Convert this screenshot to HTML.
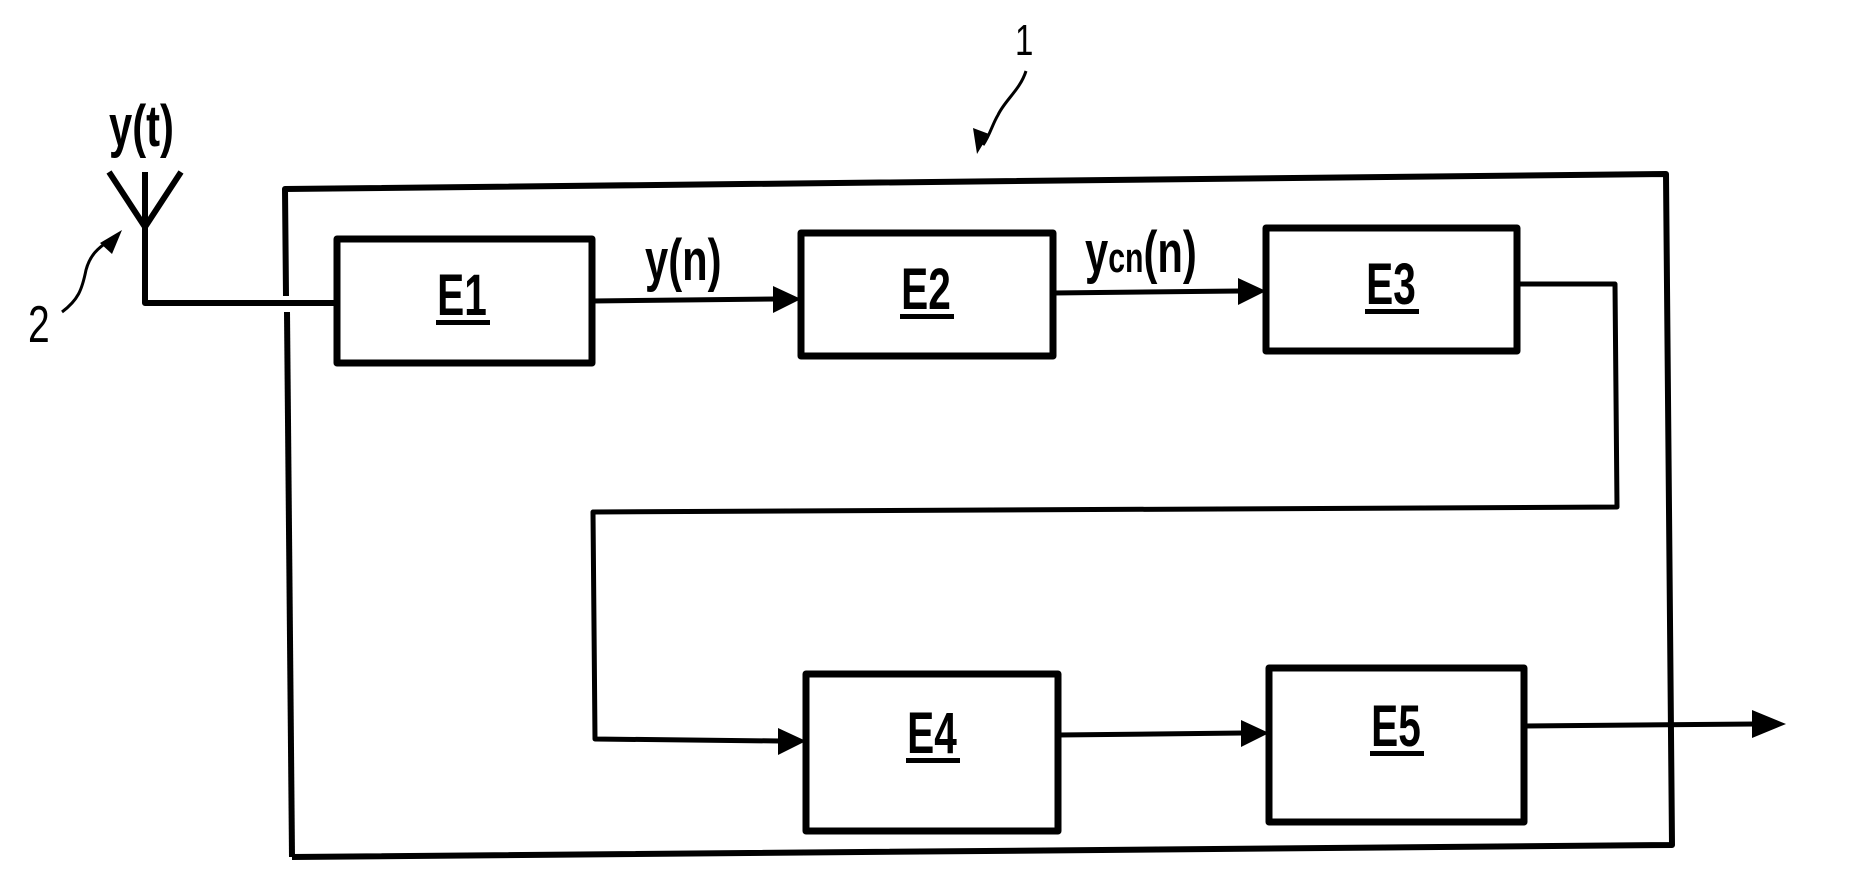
<!DOCTYPE html>
<html><head><style>
html,body{margin:0;padding:0;background:#fff;}
svg{display:block;}
text{font-family:"Liberation Sans",sans-serif;font-weight:bold;fill:#000;}
</style></head><body>
<svg width="1849" height="872" viewBox="0 0 1849 872" xmlns="http://www.w3.org/2000/svg">
<g stroke="#000" fill="none" stroke-linejoin="round">
<path d="M292,857 L1672,845 L1666,174 L285,189 L286,296" stroke-width="6"/>
<path d="M287,312 L292,857" stroke-width="6"/>
<path d="M145,172 L145,303 L335,303" stroke-width="6"/>
<path d="M109,172 L145,227 L181,172" stroke-width="6"/>
<rect x="337" y="239" width="255" height="124" stroke-width="7"/>
<rect x="801" y="233" width="252" height="123" stroke-width="7"/>
<rect x="1266" y="228" width="251" height="123" stroke-width="7"/>
<rect x="806" y="674" width="252" height="157" stroke-width="7"/>
<rect x="1269" y="668" width="255" height="154" stroke-width="7"/>
<path d="M592,301 L775,299" stroke-width="5"/>
<path d="M1053,293 L1240,291" stroke-width="5"/>
<path d="M1517,284 L1615,284 L1617,507 L593,512 L595,739 L780,741" stroke-width="5"/>
<path d="M1058,735 L1243,733" stroke-width="5"/>
<path d="M1524,726 L1755,724" stroke-width="5"/>
<path d="M62,312 C78,300 82,290 86,270 C90,255 98,248 110,240" stroke-width="3"/>
<path d="M1026,71 C1020,90 1005,100 998,115 C992,125 990,135 983,145" stroke-width="3"/>
</g>
<g fill="#000">
<polygon points="801,299 773,286 773,313"/>
<polygon points="1266,291 1238,278 1238,305"/>
<polygon points="806,741 778,728 778,755"/>
<polygon points="1269,733 1241,720 1241,747"/>
<polygon points="1786,724 1752,710 1752,738"/>
<polygon points="122,230 100,243 112,254"/>
<polygon points="977,154 973,128 989,134"/>
</g>
<g font-size="58">
<text transform="translate(109,146) scale(0.72,1)">y(t)</text>
<text transform="translate(645,280) scale(0.72,1)">y(n)</text>
<text transform="translate(1085,272) scale(0.72,1)">y<tspan font-size="42">cn</tspan>(n)</text>
<text style="font-weight:normal" transform="translate(28,342) scale(0.75,1)" font-size="52">2</text>
<text style="font-weight:normal" transform="translate(1015,55) scale(0.75,1)" font-size="44">1</text>
<text text-anchor="middle" transform="translate(462,315) scale(0.7,1)">E1</text>
<text text-anchor="middle" transform="translate(926,309) scale(0.7,1)">E2</text>
<text text-anchor="middle" transform="translate(1391,304) scale(0.7,1)">E3</text>
<text text-anchor="middle" transform="translate(932,753) scale(0.7,1)">E4</text>
<text text-anchor="middle" transform="translate(1396,746) scale(0.7,1)">E5</text>
</g>
<g fill="#000">
<rect x="436" y="320" width="54" height="5"/>
<rect x="900" y="314" width="54" height="5"/>
<rect x="1365" y="309" width="54" height="5"/>
<rect x="906" y="758" width="54" height="5"/>
<rect x="1370" y="751" width="54" height="5"/>
</g>
</svg>
</body></html>
